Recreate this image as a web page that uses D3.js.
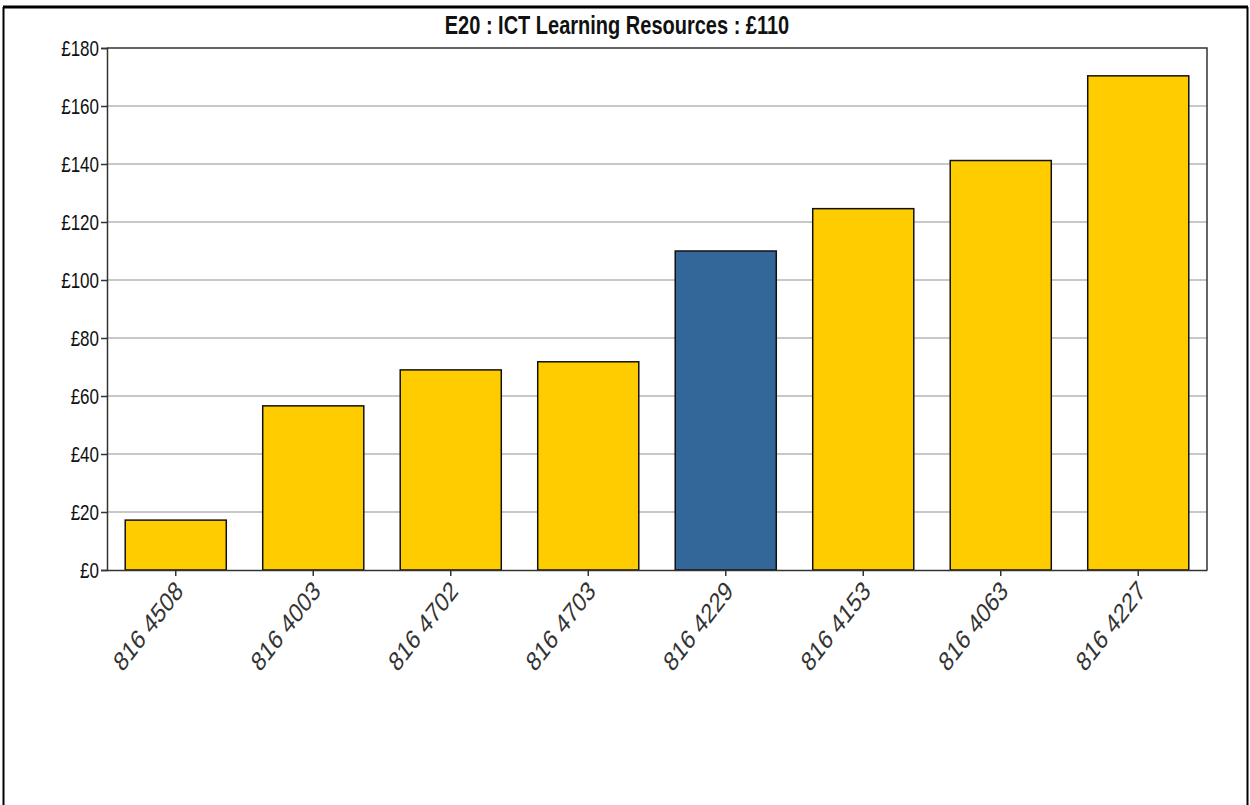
<!DOCTYPE html>
<html><head><meta charset="utf-8">
<script src="https://cdn.jsdelivr.net/npm/d3@7"></script>
<style>body{margin:0;background:#fff}svg{display:block}</style>
</head><body>
<script>
const title = "E20 : ICT Learning Resources : £110";
const categories = ["816 4508","816 4003","816 4702","816 4703","816 4229","816 4153","816 4063","816 4227"];
const values = [17.2, 56.6, 69.0, 71.8, 110, 124.6, 141.2, 170.4];
const highlight = ["816 4229"];
const yTicks = [0,20,40,60,80,100,120,140,160,180];

const W = 1250, H = 805;
const m = {left:107, right:1207, top:48, bottom:570};
const SY = 1.3; // vertical stretch of the original rendering
const svg = d3.select("body").append("svg").attr("width",W).attr("height",H);
const font = "'Liberation Sans Narrow','Arial Narrow','Liberation Sans',Arial,sans-serif";

// outer frame
svg.append("line").attr("x1",3).attr("x2",1248).attr("y1",7).attr("y2",7).attr("stroke","#000").attr("stroke-width",3);
svg.append("line").attr("x1",3.5).attr("x2",3.5).attr("y1",7).attr("y2",H).attr("stroke","#000").attr("stroke-width",2);
svg.append("line").attr("x1",1247.5).attr("x2",1247.5).attr("y1",7).attr("y2",H).attr("stroke","#000").attr("stroke-width",2);

const x = d3.scaleBand().domain(categories).range([m.left,m.right]).paddingInner(0.265).paddingOuter(0.1325);
const y = d3.scaleLinear().domain([0,180]).range([m.bottom,m.top]);

// gridlines
svg.append("g").selectAll("line").data(yTicks.filter(t=>t>0&&t<180)).join("line")
  .attr("x1",m.left).attr("x2",m.right).attr("y1",d=>y(d)).attr("y2",d=>y(d))
  .attr("stroke","#c8c8c8").attr("stroke-width",2);

// top & right frame
svg.append("path").attr("d",`M${m.left},${m.top}H${m.right}V${m.bottom}`).attr("fill","none").attr("stroke","#333").attr("stroke-width",1.5);

// bars
svg.append("g").selectAll("rect").data(categories).join("rect")
  .attr("x",d=>x(d)).attr("width",x.bandwidth())
  .attr("y",(d,i)=>y(values[i])).attr("height",(d,i)=>y(0)-y(values[i]))
  .attr("fill",d=>highlight.includes(d)?"#336699":"#FFCC00")
  .attr("stroke","#111").attr("stroke-width",1.5);

// y axis
const ya = svg.append("g").attr("transform",`translate(${m.left},0)`)
  .call(d3.axisLeft(y).tickValues(yTicks).tickSize(6).tickFormat(d=>"£"+d));
ya.select(".domain").attr("stroke","#333").attr("stroke-width",1.5);
ya.selectAll(".tick line").attr("stroke","#333").attr("stroke-width",1.5);
ya.selectAll("text").attr("font-family",font).attr("font-size",17).attr("fill","#111")
  .attr("x",0).attr("dy","0.36em").attr("transform",`translate(-8,0) scale(1,${SY})`);

// x axis
const xa = svg.append("g").attr("transform",`translate(0,${m.bottom})`)
  .call(d3.axisBottom(x).tickSize(6).tickSizeOuter(0));
xa.select(".domain").attr("stroke","#333").attr("stroke-width",1.5);
xa.selectAll(".tick line").attr("stroke","#333").attr("stroke-width",1.5);
xa.selectAll("text").attr("font-family",font).attr("font-size",21).attr("fill","#333")
  .attr("text-anchor","end").attr("dy","0.7em").attr("y",0).attr("x",0)
  .attr("transform",`translate(-2,9) scale(1,${SY}) rotate(-45)`);

// title
svg.append("text").attr("transform",`translate(617,34) scale(1,${SY})`).attr("text-anchor","middle")
  .attr("font-family",font).attr("font-size",20).attr("font-weight","bold").attr("fill","#111").text(title);
</script>
</body></html>
